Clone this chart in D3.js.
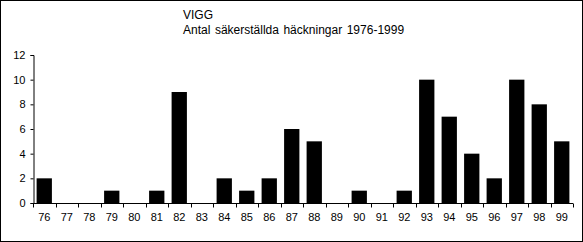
<!DOCTYPE html>
<html>
<head>
<meta charset="utf-8">
<script src="https://cdn.jsdelivr.net/npm/d3@7"></script>
<style>
  body { margin: 0; background: #fff; }
  svg { display: block; font-family: "Liberation Sans", Arial, sans-serif; }
</style>
</head>
<body>
<div id="chart"></div>
<script>
// data
const years = ['76','77','78','79','80','81','82','83','84','85','86','87','88','89','90','91','92','93','94','95','96','97','98','99'];
const nests = [2,0,0,1,0,1,9,0,2,1,2,6,5,0,1,0,1,10,7,4,2,10,8,5];
const yTicks = [0,2,4,6,8,10,12];
const titleLines = ['VIGG', 'Antal säkerställda häckningar 1976-1999'];

const width = 583, height = 242;
const margin = { top: 55, right: 10, bottom: 39, left: 33 };

const svg = d3.select('#chart').append('svg')
    .attr('width', width)
    .attr('height', height);

// outer frame
svg.append('rect')
    .attr('x', 0.5).attr('y', 0.5)
    .attr('width', width - 1).attr('height', height - 1)
    .attr('fill', '#fff')
    .attr('stroke', '#000');

const x = d3.scaleBand()
    .domain(years)
    .range([margin.left, width - margin.right])
    .paddingInner(0.32)
    .paddingOuter(0.16);

const y = d3.scaleLinear()
    .domain([0, 12])
    .range([height - margin.bottom, margin.top]);

// title
svg.append('g').selectAll('text')
    .data(titleLines)
    .join('text')
    .attr('x', 183)
    .attr('y', (d, i) => 19 + i * 15)
    .style('font-size', '12px')
    .style('word-spacing', '1.2px')
    .text(d => d);

// bars
svg.append('g').selectAll('rect')
    .data(nests)
    .join('rect')
    .attr('x', (d, i) => x(years[i]))
    .attr('y', d => y(d))
    .attr('width', x.bandwidth())
    .attr('height', d => y(0) - y(d))
    .attr('fill', '#000');

// y axis
const yAxis = d3.axisLeft(y).tickValues(yTicks).tickSize(3).tickPadding(5);
svg.append('g')
    .attr('transform', `translate(${margin.left + 0.5},0)`)
    .call(yAxis)
    .call(g => g.selectAll('text').style('font-size', '11px').attr('fill', '#000').style('font-family', 'Liberation Sans, Arial, sans-serif'))
    .call(g => g.selectAll('line, path').attr('stroke', '#000'));

// x axis: ticks between categories
const step = x.step();
const x0 = margin.left;
const xg = svg.append('g')
    .attr('transform', `translate(0,${y(0) + 0.5})`);
xg.append('line')
    .attr('x1', x0).attr('x2', width - margin.right)
    .attr('stroke', '#000');
xg.selectAll('line.tick')
    .data(d3.range(years.length + 1))
    .join('line')
    .attr('class', 'tick')
    .attr('x1', i => Math.round(x0 + i * step) + 0.5)
    .attr('x2', i => Math.round(x0 + i * step) + 0.5)
    .attr('y1', 0).attr('y2', 4)
    .attr('stroke', '#000');
xg.selectAll('text')
    .data(years)
    .join('text')
    .attr('x', d => x(d) + x.bandwidth() / 2)
    .attr('y', 17)
    .attr('text-anchor', 'middle')
    .style('font-size', '11px')
    .text(d => d);
</script>
</body>
</html>
